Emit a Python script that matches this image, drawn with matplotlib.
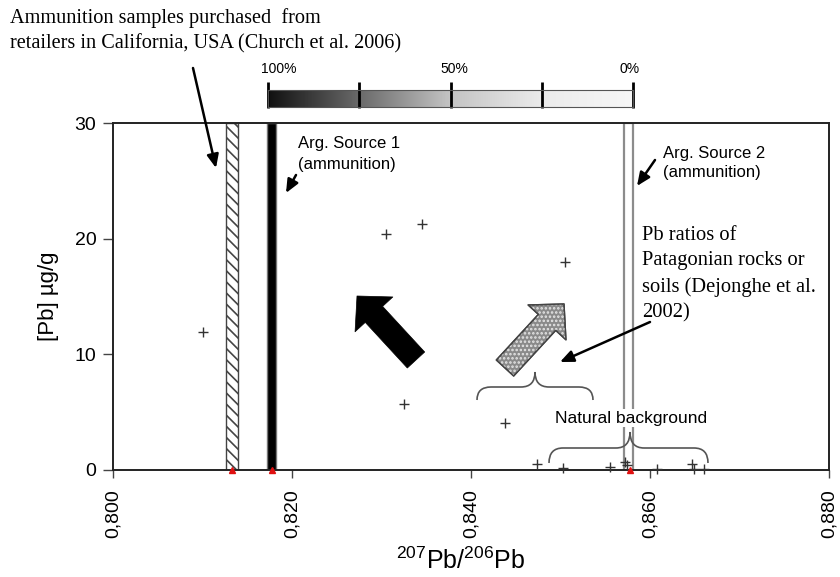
import numpy as np
import matplotlib
matplotlib.use("Agg")
from matplotlib import pyplot as plt
from matplotlib.patches import FancyArrowPatch, PathPatch
from matplotlib.path import Path
from matplotlib.colors import LinearSegmentedColormap

plt.rcParams['font.family'] = ['Liberation Sans', 'DejaVu Sans']
plt.rcParams['mathtext.fontset'] = 'custom'
plt.rcParams['mathtext.rm'] = 'Liberation Sans'
plt.rcParams['mathtext.it'] = 'Liberation Sans'
plt.rcParams['hatch.linewidth'] = 1.2

# Data
pb_ratio = [0.8101, 0.8305, 0.8345, 0.8505, 0.8325, 0.8438, 0.8474, 0.8503,
            0.8555, 0.8572, 0.8574, 0.8608, 0.8647, 0.8649, 0.8660]
pb_conc = [11.9, 20.4, 21.3, 18.0, 5.7, 4.1, 0.5, 0.2,
           0.3, 0.7, 0.4, 0.1, 0.5, 0.1, 0.1]

church_band = (0.8126, 0.8140)     # hatched band
source1_band = (0.8172, 0.8182)    # black band
source2_band = (0.8571, 0.8581)    # white band
source_marks = [0.8133, 0.8178, 0.8578]

x_ticks = [0.800, 0.820, 0.840, 0.860, 0.880]
x_labels = ["0,800", "0,820", "0,840", "0,860", "0,880"]
y_ticks = [0, 10, 20, 30]
scale_ticks = [0, 0.25, 0.5, 0.75, 1.0]
scale_labels = {0: "100%", 0.5: "50%", 1.0: "0%"}

serif = ['Liberation Serif', 'DejaVu Serif']

fig = plt.figure(figsize=(8.4, 5.77), dpi=100)
ax = fig.add_axes([113/840, 1-470/577, 716/840, 347/577])
ax.set_xlim(0.800, 0.880)
ax.set_ylim(0, 30)

# bands
ax.axvspan(*church_band, facecolor='white', edgecolor='#444444', hatch='\\\\\\', lw=1.0, zorder=2)
ax.axvspan(*source1_band, facecolor='black', edgecolor='#777777', lw=1.0, zorder=2)
ax.axvspan(*source2_band, facecolor='white', edgecolor='#8c8c8c', lw=1.6, zorder=2)

# data points
ax.plot(pb_ratio, pb_conc, '+', color='#333333', ms=7, mew=1.0, zorder=4, clip_on=False)
ax.plot(source_marks, [0]*len(source_marks), '^', color='#e01010', ms=4, zorder=5, clip_on=False)

# axes styling
for s in ax.spines.values():
    s.set_linewidth(1.4)
    s.set_color('#222222')
ax.set_xticks(x_ticks)
ax.set_xticklabels(x_labels, rotation=90)
ax.set_yticks(y_ticks)
ax.tick_params(axis='x', direction='out', length=6, width=1, pad=8, labelsize=14, color='#444')
ax.tick_params(axis='y', direction='out', length=7, width=1, pad=5, labelsize=14, color='#444')
ax.set_ylabel('[Pb] µg/g', fontsize=16, labelpad=11)
ax.set_xlabel(r'$^{207}$Pb/$^{206}$Pb', fontsize=18)
ax.xaxis.set_label_coords(0.486, -0.262, transform=ax.transAxes)
ax.xaxis.label.set_va('center')


def px(x, y):
    # figure pixel (top-left origin) -> axes fraction
    return ((x - 113) / 716, (470 - y) / 347)


def small_arrow(p_from, p_to):
    ax.annotate('', xy=px(*p_to), xytext=px(*p_from), xycoords='axes fraction',
                textcoords='axes fraction', annotation_clip=False,
                arrowprops=dict(arrowstyle='-|>,head_length=0.8,head_width=0.35',
                                color='black', lw=1.8, shrinkA=0, shrinkB=0))


def big_arrow(p_from, p_to, face, **kw):
    style = 'simple,head_length=18,head_width=37,tail_width=17'
    a = FancyArrowPatch(px(*p_from), px(*p_to), transform=ax.transAxes,
                        arrowstyle=style, mutation_scale=1, shrinkA=0, shrinkB=0,
                        facecolor=face, zorder=3, **kw)
    ax.add_patch(a)
    return a


def brace(x0, x1, y_end, y_mid, y_tip, xm=None):
    x0, y_end_a = px(x0, y_end)
    x1, _ = px(x1, y_end)
    if xm is None:
        xm = (x0 + x1) / 2
    else:
        xm = px(xm, 0)[0]
    ym = px(0, y_mid)[1]
    yt = px(0, y_tip)[1]
    r = 14 / 716
    verts = [(x0, y_end_a), (x0, ym), (x0 + r, ym),
             (xm - r, ym), (xm, ym), (xm, yt),
             (xm, ym), (xm + r, ym),
             (x1 - r, ym), (x1, ym), (x1, y_end_a)]
    codes = [Path.MOVETO, Path.CURVE3, Path.CURVE3,
             Path.LINETO, Path.CURVE3, Path.CURVE3,
             Path.CURVE3, Path.CURVE3,
             Path.LINETO, Path.CURVE3, Path.CURVE3]
    ax.add_patch(PathPatch(Path(verts, codes), transform=ax.transAxes, fill=False,
                           edgecolor='#555555', lw=1.2, clip_on=False, zorder=3))


# big arrows
big_arrow((416, 360), (357, 296), 'black', edgecolor='black', lw=0.5)
big_arrow((505, 368), (564, 304), '#8a8a8a', edgecolor='#444444', lw=1.0)
big_arrow((505, 368), (564, 304), 'none', edgecolor='#e6e6e6', hatch='....', lw=0)
big_arrow((505, 368), (564, 304), 'none', edgecolor='#444444', lw=1.0)

# braces
brace(477, 593, 400, 387, 372, xm=535)
brace(549, 708, 463, 448, 432, xm=630)

# annotations
small_arrow((193, 68), (216, 168))
small_arrow((296, 175), (286, 193))
small_arrow((655, 160), (637, 186))
small_arrow((650, 322), (560, 362))

ax.text(*px(298, 136), 'Arg. Source 1\n(ammunition)', transform=ax.transAxes,
        ha='left', va='top', fontsize=12, linespacing=1.5)
ax.text(*px(663, 146), 'Arg. Source 2\n(ammunition)', transform=ax.transAxes,
        ha='left', va='top', fontsize=12, linespacing=1.35)
ax.text(*px(642, 226), 'Pb ratios of\nPatagonian rocks or\nsoils (Dejonghe et al.\n2002)',
        transform=ax.transAxes, ha='left', va='top', fontsize=14.8, linespacing=1.45,
        family=serif)
ax.text(*px(631, 418), 'Natural background', transform=ax.transAxes,
        ha='center', va='center', fontsize=12.5,
        bbox=dict(facecolor='white', edgecolor='none', pad=1))
fig.text(10/840, 1-8/577, 'Ammunition samples purchased  from\nretailers in California, USA (Church et al. 2006)',
         ha='left', va='top', fontsize=14.6, linespacing=1.4, family=serif)

# grey scale bar
cax = fig.add_axes([268/840, 1-107/577, 365/840, 17/577])
cmap = LinearSegmentedColormap.from_list('g', [(0, '#111111'), (0.25, '#6a6a6a'),
                                               (0.5, '#c4c4c4'), (0.75, '#ebebeb'),
                                               (1, '#f7f7f7')])
cax.imshow(np.linspace(0, 1, 256)[None, :], aspect='auto', cmap=cmap, extent=(0, 1, 0, 1))
cax.set_xlim(0, 1)
cax.set_ylim(0, 1)
cax.set_xticks([])
cax.set_yticks([])
for s in cax.spines.values():
    s.set_linewidth(0.8)
    s.set_color('#555555')
cax.vlines(scale_ticks, -0.05, 1.5, colors='black', lw=2, clip_on=False,
           transform=cax.transAxes)
for t, lab in scale_labels.items():
    cax.text(t + (0.03 if t == 0 else -0.01 if t == 1 else 0.01), 1.8, lab,
             transform=cax.transAxes, ha='center', va='bottom', fontsize=10)

fig.savefig('out.png', dpi=100)
